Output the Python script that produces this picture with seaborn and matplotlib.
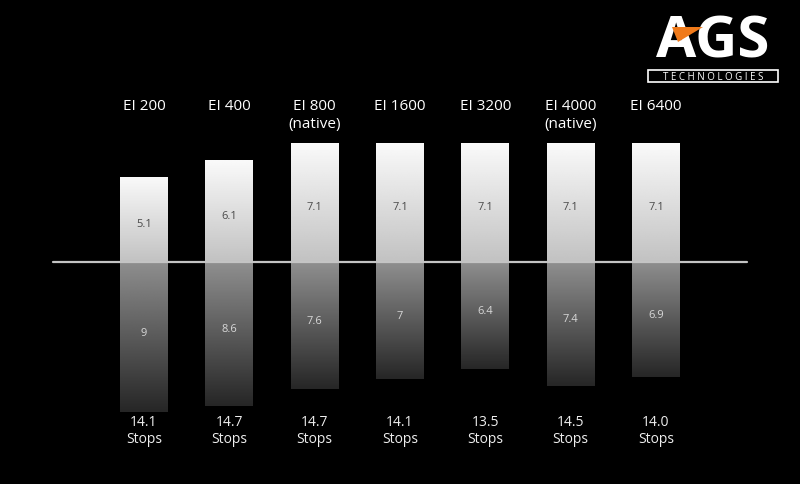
import numpy as np
import pandas as pd
import matplotlib
matplotlib.use("Agg")
import matplotlib.pyplot as plt
import seaborn as sns
from matplotlib.patches import Polygon, Rectangle

# ---- data ----
categories = ["EI 200", "EI 400", "EI 800\n(native)", "EI 1600", "EI 3200", "EI 4000\n(native)", "EI 6400"]
above = [5.1, 6.1, 7.1, 7.1, 7.1, 7.1, 7.1]
below = [9, 8.6, 7.6, 7, 6.4, 7.4, 6.9]
below_labels = ["9", "8.6", "7.6", "7", "6.4", "7.4", "6.9"]
total_labels = ["14.1", "14.7", "14.7", "14.1", "13.5", "14.5", "14.0"]

sns.set_theme(style="dark")
plt.rcParams["font.family"] = ["Open Sans", "DejaVu Sans"]

fig = plt.figure(figsize=(8, 4.85), dpi=100, facecolor="black")
ax = fig.add_axes([0, 0, 1, 1])
ax.set_facecolor("black")

df_up = pd.DataFrame({"cat": categories, "val": above})
df_dn = pd.DataFrame({"cat": categories, "val": [-b for b in below]})
sns.barplot(data=df_up, x="cat", y="val", order=categories, color="white",
            width=0.5625, errorbar=None, ax=ax, zorder=2)
sns.barplot(data=df_dn, x="cat", y="val", order=categories, color="white",
            width=0.5625, errorbar=None, ax=ax, zorder=2)

px = 85.33
ppu = 16.7

# gradient fills
for p in list(ax.patches):
    x0, y0 = p.get_x(), p.get_y()
    w, h = p.get_width(), p.get_height()
    ylo, yhi = min(y0, y0 + h), max(y0, y0 + h)
    p.set_facecolor("none")
    p.set_edgecolor("none")
    if yhi > 0.01:  # upper segment
        g = np.linspace(0.98, 0.76, 256)
    else:
        g = np.linspace(0.56, 0.15, 256)
    img = np.repeat(g[:, None], 2, axis=1)
    im = ax.imshow(img, cmap="gray", vmin=0, vmax=1, aspect="auto",
                   extent=[x0, x0 + w, ylo, yhi], origin="upper",
                   interpolation="bilinear", zorder=2)
    im.set_clip_path(p)

ax.set_xlim(-144 / px, (800 - 144) / px)
ax.set_ylim(-(485 - 263) / ppu, 263 / ppu)
ax.axis("off")

ax.axhline(0, xmin=53 / 800, xmax=747 / 800, color="#c4c4c4", lw=1.6, zorder=3)

for i, cat in enumerate(categories):
    ax.annotate(cat, (i, 263 / ppu), xytext=(0, -99), textcoords="offset pixels",
                ha="center", va="top", color="white", fontsize=11,
                linespacing=1.3)
    ax.annotate(f"{above[i]}", (i, above[i] / 2), xytext=(0, -4), textcoords="offset pixels",
                ha="center", va="center", color="#4a4a4a", fontsize=8)
    ax.annotate(below_labels[i], (i, -below[i] / 2), xytext=(0, 5), textcoords="offset pixels",
                ha="center", va="center", color="#d8d8d8", fontsize=8)
    ax.annotate(f"{total_labels[i]}\nStops", (i, -(485 - 263) / ppu), xytext=(0, 70),
                textcoords="offset pixels", ha="center", va="top", color="#eeeeee",
                fontsize=10, linespacing=1.15)

# logo
fig.text(713 / 800, 1 - 58 / 485, "AGS", color="white", fontsize=42, fontweight="bold",
         ha="center", va="baseline", family=["Open Sans", "DejaVu Sans"], zorder=3)
tri = Polygon([[672 / 800, 1 - 28 / 485], [703 / 800, 1 - 28 / 485], [678 / 800, 1 - 43 / 485]],
              closed=True, transform=fig.transFigure, facecolor="#f07a1a", edgecolor="none",
              zorder=5)
fig.add_artist(tri)
box = Rectangle((648 / 800, 1 - 83 / 485), 130 / 800, 12 / 485, transform=fig.transFigure,
                facecolor="black", edgecolor="white", lw=1.2, zorder=4)
fig.add_artist(box)
fig.text(713 / 800, 1 - 77.5 / 485, "T E C H N O L O G I E S", color="white", fontsize=7,
         ha="center", va="center", zorder=6)

fig.savefig("out.png", dpi=100, facecolor="black")
